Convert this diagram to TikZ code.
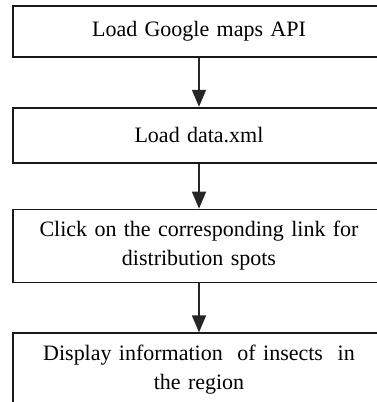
\documentclass[tikz,border=0pt]{standalone}
\usepackage{fontspec}
\setmainfont{Liberation Serif}
\usetikzlibrary{arrows.meta, positioning}
\tikzset{
    stepbox/.style={draw=black!90, line width=1.8pt, minimum width=372pt, text width=340pt, align=center, inner sep=0pt},
    flow/.style={-{Triangle[length=17pt, width=14pt]}, line width=1.5pt, black!85},
    every node/.style={font=\fontsize{22}{29}\selectfont}
}

\begin{document}
\begin{tikzpicture}
    % visible part of the chart
    \clip (0pt,0pt) rectangle (377pt,-402pt);
    % Steps
    \node[stepbox, minimum height=51pt, anchor=north] (api) at (199pt,-5pt) {Load Google maps API};
    \node[stepbox, minimum height=55pt, below=49pt of api] (data) {Load data.xml};
    \node[stepbox, minimum height=73pt, below=45pt of data] (click) {Click on the corresponding link for\\distribution spots};
    \node[stepbox, minimum height=73pt, below=49pt of click] (show) {Display information\ \ of insects\ \ in\\the region};
    % Flow
    \draw[flow] (api) -- (data);
    \draw[flow] (data) -- (click);
    \draw[flow] (click) -- (show);
\end{tikzpicture}
\end{document}
